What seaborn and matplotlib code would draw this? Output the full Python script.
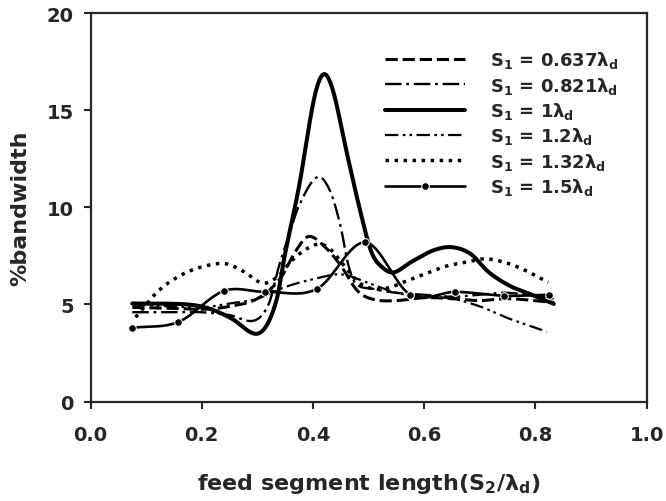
import numpy as np
import matplotlib
matplotlib.use("Agg")
import matplotlib.pyplot as plt
import seaborn as sns

# ---- data ----
x_0637 = [0.075, 0.15, 0.20, 0.25, 0.30, 0.34, 0.37, 0.392, 0.42, 0.45, 0.48, 0.51, 0.55, 0.60, 0.65, 0.70, 0.75, 0.833]
y_0637 = [4.85, 4.8, 4.75, 4.9, 5.3, 6.3, 7.8, 8.5, 8.0, 7.0, 5.7, 5.25, 5.2, 5.35, 5.3, 5.2, 5.3, 5.1]

x_0821 = [0.075, 0.15, 0.20, 0.25, 0.294, 0.32, 0.339, 0.355, 0.375, 0.407, 0.429, 0.449, 0.462, 0.476, 0.509, 0.55, 0.60, 0.65, 0.70, 0.75, 0.833]
y_0821 = [4.6, 4.6, 4.6, 4.45, 4.17, 5.0, 7.0, 8.4, 10.1, 11.55, 10.95, 9.1, 7.2, 6.1, 5.8, 5.6, 5.5, 5.4, 5.5, 5.6, 5.3]

x_1 = [0.075, 0.175, 0.215, 0.255, 0.294, 0.315, 0.335, 0.349, 0.375, 0.402, 0.419, 0.436, 0.46, 0.485, 0.505, 0.525, 0.545, 0.576, 0.616, 0.649, 0.683, 0.716, 0.753, 0.79, 0.833]
y_1 = [5.05, 5.0, 4.77, 4.25, 3.5, 3.85, 5.3, 7.5, 11.1, 15.6, 16.85, 16.0, 12.9, 9.8, 7.7, 6.9, 6.65, 7.18, 7.78, 7.95, 7.61, 6.66, 5.97, 5.54, 5.03]

x_12 = [0.075, 0.15, 0.20, 0.25, 0.30, 0.35, 0.40, 0.45, 0.50, 0.55, 0.60, 0.65, 0.70, 0.75, 0.80, 0.82]
y_12 = [5.0, 4.9, 4.85, 5.05, 5.3, 5.9, 6.3, 6.55, 6.1, 5.6, 5.4, 5.3, 4.9, 4.3, 3.8, 3.6]

x_132 = [0.081, 0.122, 0.162, 0.202, 0.242, 0.275, 0.309, 0.335, 0.36, 0.385, 0.409, 0.429, 0.456, 0.482, 0.509, 0.535, 0.562, 0.609, 0.643, 0.676, 0.709, 0.743, 0.776, 0.823]
y_132 = [4.34, 5.7, 6.5, 6.95, 7.1, 6.7, 6.1, 6.4, 7.2, 7.8, 8.1, 7.9, 7.0, 6.14, 5.8, 5.85, 6.14, 6.66, 7.0, 7.18, 7.35, 7.18, 6.83, 6.14]

x_15 = [0.075, 0.158, 0.240, 0.314, 0.407, 0.494, 0.575, 0.656, 0.743, 0.824]
y_15 = [3.8, 4.1, 5.7, 5.65, 5.8, 8.2, 5.5, 5.65, 5.45, 5.5]

labels = [r"S$_\mathrm{1}$ = 0.637$\lambda_\mathrm{d}$",
          r"S$_\mathrm{1}$ = 0.821$\lambda_\mathrm{d}$",
          r"S$_\mathrm{1}$ = 1$\lambda_\mathrm{d}$",
          r"S$_\mathrm{1}$ = 1.2$\lambda_\mathrm{d}$",
          r"S$_\mathrm{1}$ = 1.32$\lambda_\mathrm{d}$",
          r"S$_\mathrm{1}$ = 1.5$\lambda_\mathrm{d}$"]
xticks = [0.0, 0.2, 0.4, 0.6, 0.8, 1.0]
yticks = [0, 5, 10, 15, 20]


def smooth(x, y, n=20):
    """Cardinal (Catmull-Rom style) Hermite smoothing, like a spreadsheet 'smoothed line'."""
    x = np.asarray(x, float); y = np.asarray(y, float)
    m = np.zeros_like(y)
    m[1:-1] = (y[2:] - y[:-2]) / (x[2:] - x[:-2])
    m[0] = (y[1] - y[0]) / (x[1] - x[0])
    m[-1] = (y[-1] - y[-2]) / (x[-1] - x[-2])
    xs, ys, idx = [], [], []
    for i in range(len(x) - 1):
        h = x[i + 1] - x[i]
        t = np.linspace(0, 1, n, endpoint=False)
        h00 = 2 * t**3 - 3 * t**2 + 1
        h10 = t**3 - 2 * t**2 + t
        h01 = -2 * t**3 + 3 * t**2
        h11 = t**3 - t**2
        idx.append(len(xs))
        xs.extend(x[i] + t * h)
        ys.extend(h00 * y[i] + h10 * h * m[i] + h01 * y[i + 1] + h11 * h * m[i + 1])
    idx.append(len(xs))
    xs.append(x[-1]); ys.append(y[-1])
    return np.array(xs), np.array(ys), idx


sns.set_style("ticks")
plt.rcParams["font.family"] = ["DejaVu Sans"]
plt.rcParams["font.weight"] = "bold"
plt.rcParams["mathtext.fontset"] = "custom"
plt.rcParams["mathtext.rm"] = "DejaVu Sans:bold"
plt.rcParams["mathtext.it"] = "DejaVu Sans:bold"
plt.rcParams["mathtext.bf"] = "DejaVu Sans:bold"

fig = plt.figure(figsize=(6.66, 5.02), dpi=100)
ax = fig.add_axes([0.136, 0.198, 0.835, 0.774])

series = [
    (x_0637, y_0637, dict(linestyle=(0, (4, 1.6)), linewidth=2.2)),
    (x_0821, y_0821, dict(linestyle=(0, (7, 2, 1.2, 2)), linewidth=1.7)),
    (x_1, y_1, dict(linestyle="-", linewidth=2.9)),
    (x_12, y_12, dict(linestyle=(0, (6, 2, 1.2, 1.8, 1.2, 2)), linewidth=1.6)),
    (x_132, y_132, dict(linestyle=(0, (1, 1.6)), linewidth=2.5)),
    (x_15, y_15, dict(linestyle="-", linewidth=1.9, marker="o", markersize=5.5)),
]

for (xv, yv, st), lab in zip(series, labels):
    xs, ys, idx = smooth(xv, yv)
    kw = dict(st)
    if "marker" in kw:
        kw["markevery"] = idx
    sns.lineplot(x=xs, y=ys, ax=ax, color="black", label=lab, sort=False,
                 estimator=None, **kw)

ax.set_xlim(0, 1)
ax.set_ylim(0, 20)
ax.set_xticks(xticks)
ax.set_xticklabels([f"{v:.1f}" for v in xticks])
ax.set_yticks(yticks)
ax.tick_params(axis="both", labelsize=14, width=1.5, length=5, direction="out")
ax.tick_params(axis="x", pad=12)
ax.tick_params(axis="y", pad=7)
for lab in ax.get_xticklabels() + ax.get_yticklabels():
    lab.set_fontweight("bold")
for sp in ax.spines.values():
    sp.set_linewidth(1.6)
    sp.set_visible(True)

ax.set_xlabel(r"feed segment length(S$_\mathrm{2}$/$\lambda_\mathrm{d}$)", fontsize=16,
              fontweight="bold", labelpad=19)
ax.set_ylabel("%bandwidth", fontsize=16, fontweight="bold", labelpad=12)

leg = ax.legend(loc="upper right", bbox_to_anchor=(0.965, 0.93), frameon=False,
                borderpad=0, fontsize=13, handlelength=4.4, labelspacing=0.24,
                handletextpad=1.4)
for t in leg.get_texts():
    t.set_fontweight("bold")

fig.savefig("out.png", dpi=100)
